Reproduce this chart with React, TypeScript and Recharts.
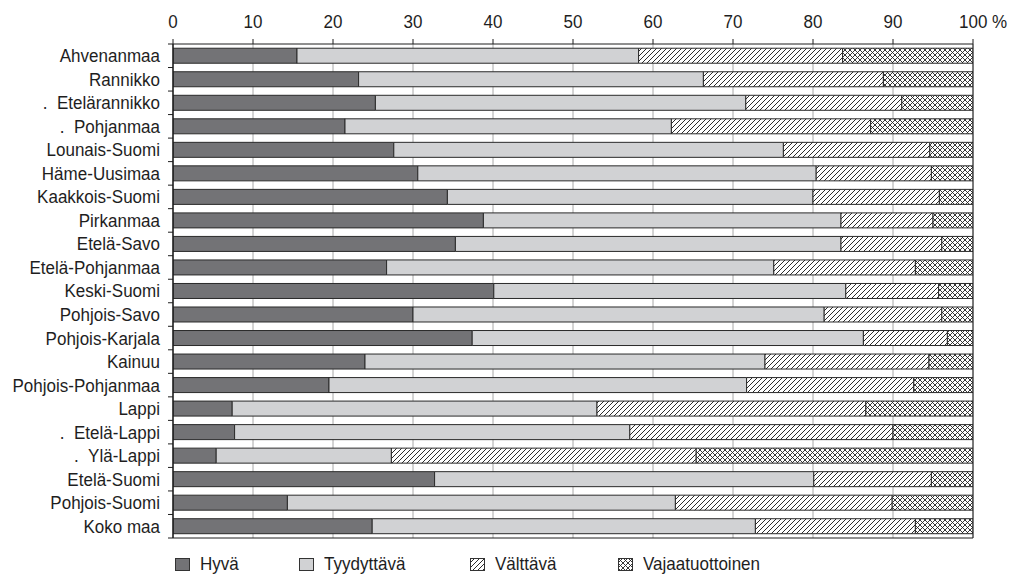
import React from "react";
import {
  BarChart,
  Bar,
  XAxis,
  YAxis,
  CartesianGrid,
  ReferenceLine,
} from "recharts";

// Metsikön kasvatuksellinen tila, % pinta-alasta
const regions = [
  "Ahvenanmaa",
  "Rannikko",
  ".\u00a0\u00a0Etelärannikko",
  ".\u00a0\u00a0Pohjanmaa",
  "Lounais-Suomi",
  "Häme-Uusimaa",
  "Kaakkois-Suomi",
  "Pirkanmaa",
  "Etelä-Savo",
  "Etelä-Pohjanmaa",
  "Keski-Suomi",
  "Pohjois-Savo",
  "Pohjois-Karjala",
  "Kainuu",
  "Pohjois-Pohjanmaa",
  "Lappi",
  ".\u00a0\u00a0Etelä-Lappi",
  ".\u00a0\u00a0Ylä-Lappi",
  "Etelä-Suomi",
  "Pohjois-Suomi",
  "Koko maa",
];

const hyva = [15.5, 23.2, 25.3, 21.5, 27.6, 30.6, 34.3, 38.8, 35.3, 26.7, 40.1, 30.0, 37.4, 24.0, 19.5, 7.4, 7.7, 5.4, 32.7, 14.3, 24.9];
const tyydyttava = [42.7, 43.1, 46.3, 40.8, 48.7, 49.8, 45.7, 44.7, 48.2, 48.4, 44.0, 51.4, 48.9, 50.0, 52.2, 45.6, 49.4, 21.9, 47.4, 48.5, 47.9];
const valttava = [25.5, 22.5, 19.5, 24.9, 18.3, 14.4, 15.8, 11.5, 12.6, 17.7, 11.6, 14.7, 10.5, 20.5, 20.9, 33.6, 32.9, 38.1, 14.7, 27.1, 20.0];
const vajaatuottoinen = [16.3, 11.2, 8.9, 12.8, 5.4, 5.2, 4.2, 5.0, 3.9, 7.2, 4.3, 3.9, 3.2, 5.5, 7.4, 13.4, 10.0, 34.6, 5.2, 10.1, 7.2];

const xTicks = [0, 10, 20, 30, 40, 50, 60, 70, 80, 90, 100];

const series = [
  { key: "hyva", name: "Hyvä", fill: "#737376" },
  { key: "tyydyttava", name: "Tyydyttävä", fill: "#d1d2d4" },
  { key: "valttava", name: "Välttävä", fill: "url(#hatch)" },
  { key: "vajaatuottoinen", name: "Vajaatuottoinen", fill: "url(#cross)" },
];

const data = regions.map((name, i) => ({
  name,
  hyva: hyva[i],
  tyydyttava: tyydyttava[i],
  valttava: valttava[i],
  vajaatuottoinen: vajaatuottoinen[i],
}));

const FONT = '"Liberation Sans", Arial, sans-serif';
const INK = "#1e1e1e";
// the original lettering is a narrow grotesque: taller than it is wide
const FS = 18.5;
const SQUEEZE = 0.92;

function TopTick(props: any) {
  const { x, y, payload } = props;
  const isLast = payload.value === 100;
  return (
    <text
      transform={`translate(${isLast ? x - 14 : x},${y}) scale(${SQUEEZE},1)`}
      textAnchor={isLast ? "start" : "middle"}
      fontSize={FS}
      fontFamily={FONT}
      fill={INK}
    >
      {isLast ? "100 %" : payload.value}
    </text>
  );
}

function RegionTick(props: any) {
  const { x, y, payload, index } = props;
  const half = payload.offset || 0;
  const axisX = x + 13;
  return (
    <g>
      <line x1={axisX - 5} x2={axisX} y1={y - half} y2={y - half} stroke={INK} />
      {index === regions.length - 1 && (
        <line x1={axisX - 5} x2={axisX} y1={y + half} y2={y + half} stroke={INK} />
      )}
      <text
        transform={`translate(${x},${y}) scale(${SQUEEZE},1)`}
        dy="0.35em"
        textAnchor="end"
        fontSize={FS}
        fontFamily={FONT}
        fill={INK}
        style={{ whiteSpace: "pre" }}
      >
        {payload.value}
      </text>
    </g>
  );
}

function Patterns() {
  return (
    <defs>
      <pattern id="hatch" patternUnits="userSpaceOnUse" width="5" height="5">
        <rect width="5" height="5" fill="#fff" />
        <path d="M-1,1 l2,-2 M0,5 l5,-5 M4,6 l2,-2" stroke="#222" strokeWidth="0.95" />
      </pattern>
      <pattern id="cross" patternUnits="userSpaceOnUse" width="5" height="5">
        <rect width="5" height="5" fill="#fff" />
        <path
          d="M-1,1 l2,-2 M0,5 l5,-5 M4,6 l2,-2 M-1,4 l2,2 M0,0 l5,5 M4,-1 l2,2"
          stroke="#222"
          strokeWidth="0.9"
        />
      </pattern>
    </defs>
  );
}

function LegendRow() {
  return (
    <div
      style={{
        position: "absolute",
        left: 175,
        top: 554,
        display: "flex",
        alignItems: "center",
        fontFamily: FONT,
        fontSize: FS,
        lineHeight: "20px",
        color: INK,
      }}
    >
      {series.map((s) => (
        <div key={s.key} style={{ display: "flex", alignItems: "center", marginRight: 57 }}>
          <svg width={15} height={13} style={{ marginRight: 10 }}>
            <rect x={0.5} y={0.5} width={14} height={12} fill={s.fill} stroke="#333" />
          </svg>
          <span style={{ display: "inline-block", transform: `scaleX(${SQUEEZE})`, transformOrigin: "left center" }}>
            {s.name}
          </span>
        </div>
      ))}
    </div>
  );
}

export default function App() {
  return (
    <div
      style={{
        position: "fixed",
        left: 0,
        top: 0,
        width: 1010,
        height: 576,
        overflow: "hidden",
        background: "#fff",
      }}
    >
      <BarChart
        width={1010}
        height={576}
        data={data}
        layout="vertical"
        margin={{ top: 0, right: 37, bottom: 37, left: 8 }}
        barCategoryGap="18%"
      >
        <Patterns />
        <CartesianGrid horizontal={false} stroke="#a8a8a8" strokeWidth={1} />
        <XAxis
          type="number"
          orientation="top"
          domain={[0, 100]}
          ticks={xTicks}
          height={44}
          tickSize={5}
          tickMargin={11}
          tick={<TopTick />}
          axisLine={{ stroke: INK }}
          tickLine={{ stroke: INK }}
          allowDataOverflow
        />
        <XAxis
          xAxisId="bottom"
          type="number"
          orientation="bottom"
          domain={[0, 100]}
          height={1}
          tick={false}
          tickLine={false}
          axisLine={{ stroke: INK }}
        />
        <YAxis
          type="category"
          dataKey="name"
          width={165}
          tickSize={0}
          tickMargin={13}
          tick={<RegionTick />}
          axisLine={{ stroke: INK, strokeWidth: 1.5 }}
          tickLine={false}
          interval={0}
        />
        <ReferenceLine x={100} stroke={INK} />
        {series.map((s) => (
          <Bar
            key={s.key}
            dataKey={s.key}
            name={s.name}
            stackId="a"
            fill={s.fill}
            stroke="#2a2a2a"
            strokeWidth={1}
            isAnimationActive={false}
          />
        ))}
      </BarChart>
      <LegendRow />
    </div>
  );
}
